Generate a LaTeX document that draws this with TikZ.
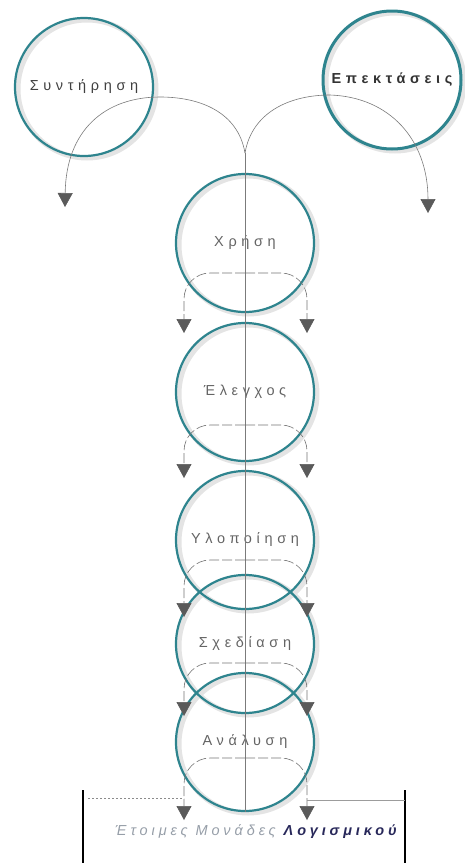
\documentclass[tikz,border=0pt]{standalone}
\usepackage{fontspec}
\setmainfont{Liberation Sans}
\newfontfamily\widesans[LetterSpace=32]{Liberation Sans}
\newfontfamily\unitsans[LetterSpace=27]{Liberation Sans}
\usetikzlibrary{arrows.meta, calc, backgrounds}
\definecolor{myteal}{RGB}{46,132,142}
\definecolor{mygrey}{RGB}{90,90,90}
\definecolor{mytext}{RGB}{100,100,100}
\definecolor{mynavy}{RGB}{40,40,90}
\definecolor{mylight}{RGB}{150,158,168}
\definecolor{myhalo}{RGB}{228,228,228}
\tikzset{
  phase/.style={circle, draw=myteal, line width=2.2pt, minimum size=138pt,
    inner sep=0pt, font=\widesans\fontsize{14.5}{16}\selectfont, text=mytext},
  halo/.style={draw=myhalo, line width=5pt},
  line/.style={draw=mygrey!80, line width=0.6pt},
  flow/.style={draw=mygrey!85, line width=0.6pt, dash pattern=on 10pt off 3pt,
    rounded corners=26pt},
  downarrow/.style={-{Triangle[width=15pt,length=14pt,color=mygrey]}},
  boxline/.style={draw=black, line width=1.2pt}
}

\begin{document}
\begin{tikzpicture}[x=1pt, y=-1pt]
  \useasboundingbox (0,0) rectangle (465,863);

  % the phases
  \node[phase, text=black!75] (syntirisi) at (84,87) {Συντήρηση};
  \node[phase, text=black!80, line width=3pt] (epektaseis) at (392,80) {\bfseries Επεκτάσεις};
  \node[phase] (xrisi) at (245,243) {Χρήση};
  \node[phase] (elegxos) at (245,392) {Έλεγχος};
  \node[phase] (ylopoiisi) at (245,540) {Υλοποίηση};
  \node[phase] (sxediasi) at (245,644) {Σχεδίαση};
  \node[phase] (analysi) at (245,742) {Ανάλυση};

  \begin{scope}[on background layer]
    \foreach \ph in {syntirisi, epektaseis, xrisi, elegxos, ylopoiisi, sxediasi, analysi}
      \draw[halo] ($(\ph.center)+(3,2)$) circle (69pt);
  \end{scope}

  % spine and the two top branches
  \coordinate (top) at (245,153);
  \coordinate (leftend) at (65,207);
  \coordinate (rightend) at (428,213);
  \draw[line] (top) -- (analysi.south);
  \draw[line, downarrow] (top) .. controls (238,112) and (200,97) .. (160,97)
    .. controls (105,97) and (66,130) .. (leftend);
  \draw[line, downarrow] (top) .. controls (252,112) and (290,95) .. (330,95)
    .. controls (390,97) and (428,140) .. (rightend);

  % split arrows under each phase
  \foreach \ph/\j/\t in {xrisi/30/90, elegxos/33/86, ylopoiisi/20/77, sxediasi/19/72, analysi/16/78} {
    \coordinate (\ph-j) at ($(\ph.center)+(0,\j)$);
    \coordinate (\ph-l) at ($(\ph.center)+(-61,\t)$);
    \coordinate (\ph-r) at ($(\ph.center)+(62,\t)$);
    \draw[flow, downarrow] (\ph-j) -| (\ph-l);
    \draw[flow, downarrow] (\ph-j) -| (\ph-r);
  }

  % ready units
  \coordinate (boxtl) at (83,790);
  \coordinate (boxbl) at (83,863);
  \coordinate (boxtr) at (405,790);
  \coordinate (boxbr) at (405,863);
  \draw[boxline] (boxtl) -- (boxbl);
  \draw[boxline] (boxtr) -- (boxbr);
  \coordinate (ledge) at (88,798);
  \coordinate (redge) at (405,800);
  \draw[mygrey!70, line width=0.5pt, dash pattern=on 2pt off 2pt] (ledge) -- (ledge -| analysi-l);
  \draw[mygrey!60, line width=0.6pt] (redge) -- (redge -| analysi-r);
  \node[font=\unitsans\itshape\fontsize{14.5}{16}\selectfont, text=mylight] (ready) at (256,832)
    {Έτοιμες Μονάδες {\color{mynavy}\bfseries Λογισμικού}};
\end{tikzpicture}
\end{document}
